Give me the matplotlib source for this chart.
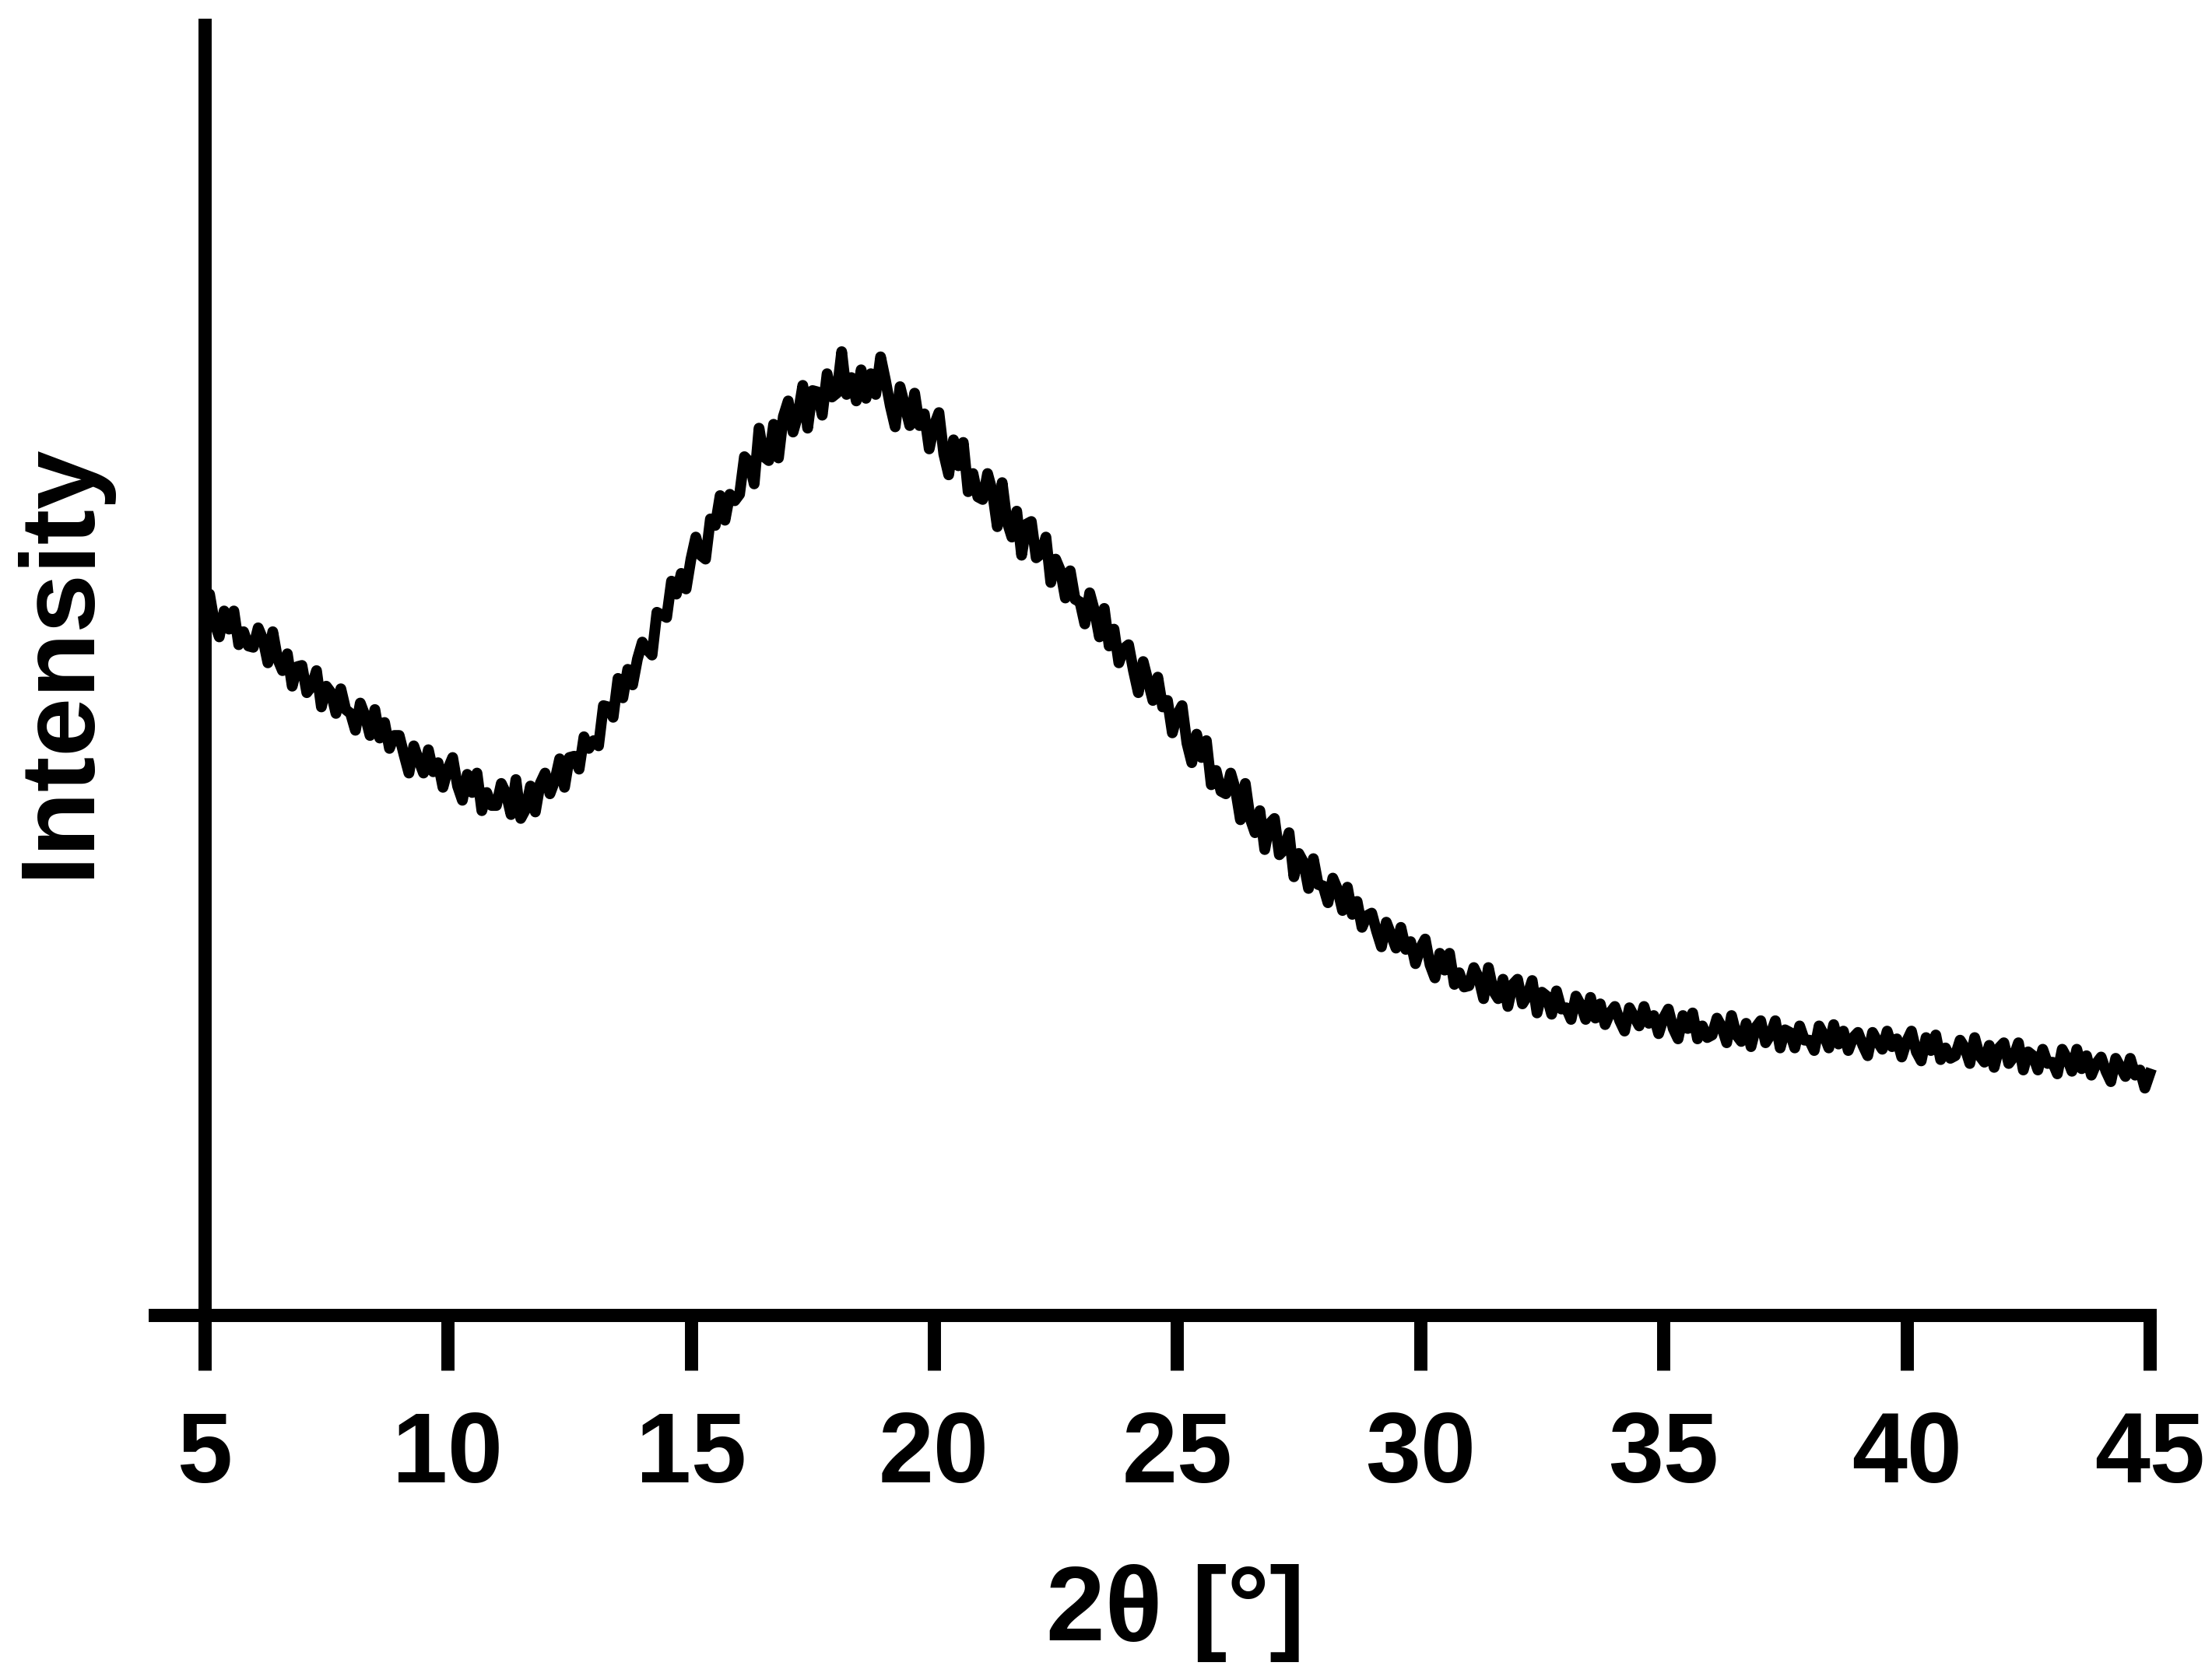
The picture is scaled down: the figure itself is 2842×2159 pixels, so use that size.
import numpy as np
import matplotlib

matplotlib.use("Agg")
import matplotlib.pyplot as plt

plt.rcParams["font.family"] = ["Liberation Sans", "DejaVu Sans"]
plt.rcParams["font.weight"] = "bold"

# XRD scan, arbitrary intensity units (0.1 deg steps, 5.0 .. 45.0)
intensity = [
    53.2, 55.6, 53.4, 52.3, 54.3, 52.9, 54.3, 51.7, 52.7, 51.6,   # 5
    51.5, 53.0, 52.1, 50.3, 52.7, 50.6, 49.7, 51.0, 48.5, 50.0,   # 6
    50.1, 48.0, 48.5, 49.7, 46.9, 48.5, 48.0, 46.4, 48.3, 46.7,   # 7
    46.4, 45.1, 47.2, 46.2, 44.7, 46.7, 44.5, 45.7, 43.7, 44.7,   # 8
    44.7, 43.2, 41.8, 43.9, 42.8, 41.8, 43.6, 41.9, 42.6, 40.7,   # 9
    42.1, 43.0, 40.8, 39.7, 41.7, 40.3, 41.8, 38.9, 40.3, 39.3,   # 10
    39.3, 41.0, 40.2, 38.6, 41.3, 38.3, 39.0, 40.8, 38.8, 41.0,   # 11
    41.8, 40.2, 41.2, 42.9, 40.7, 43.0, 43.1, 42.1, 44.6, 43.7,   # 12
    44.3, 43.9, 47.0, 46.9, 46.1, 49.1, 47.6, 49.8, 48.6, 50.6,   # 13
    51.9, 51.3, 50.9, 54.2, 54.0, 53.8, 56.6, 55.6, 57.2, 56.0,   # 14
    58.3, 60.0, 58.6, 58.3, 61.4, 60.9, 63.2, 61.3, 63.3, 62.8,   # 15
    63.3, 66.2, 65.8, 64.1, 68.4, 66.2, 65.9, 68.7, 66.1, 69.3,   # 16
    70.5, 68.1, 69.4, 71.7, 68.4, 71.3, 71.2, 69.4, 72.6, 70.8,   # 17
    71.1, 74.3, 71.0, 72.3, 70.5, 72.9, 70.7, 72.6, 71.0, 73.9,   # 18
    72.1, 70.1, 68.5, 71.6, 70.1, 68.6, 71.1, 68.6, 69.5, 66.8,   # 19
    68.6, 69.6, 66.4, 64.8, 67.5, 65.5, 67.3, 63.5, 64.9, 63.1,   # 20
    62.9, 64.9, 63.5, 60.8, 64.2, 61.2, 60.0, 62.0, 58.6, 61.0,   # 21
    61.2, 58.4, 58.7, 60.0, 56.5, 58.3, 57.4, 55.3, 57.4, 55.2,   # 22
    55.0, 53.3, 55.7, 54.3, 52.3, 54.5, 51.6, 52.9, 50.3, 51.4,   # 23
    51.7, 49.7, 48.0, 50.4, 48.9, 47.4, 49.2, 46.9, 47.4, 44.9,   # 24
    46.3, 47.0, 44.1, 42.6, 44.8, 43.0, 44.3, 40.9, 42.0, 40.4,   # 25
    40.2, 41.8, 40.5, 38.2, 41.0, 38.3, 37.2, 38.9, 35.9, 37.9,   # 26
    38.3, 35.5, 35.9, 37.2, 33.8, 35.6, 34.9, 32.9, 35.2, 33.2,   # 27
    33.1, 31.8, 33.7, 32.8, 31.2, 33.0, 30.9, 31.9, 29.9, 30.8,   # 28
    31.0, 29.6, 28.4, 30.3, 29.3, 28.3, 29.9, 28.2, 28.8, 27.1,   # 29
    28.3, 29.0, 27.0, 26.0, 27.9, 26.6, 27.9, 25.5, 26.4, 25.3,   # 30
    25.4, 26.8, 26.0, 24.4, 26.8, 25.0, 24.4, 25.9, 23.8, 25.5,   # 31
    25.9, 24.0, 24.6, 25.8, 23.3, 24.9, 24.6, 23.2, 25.0, 23.6,   # 32
    23.7, 22.8, 24.6, 23.9, 22.8, 24.5, 22.9, 24.0, 22.4, 23.3,   # 33
    23.8, 22.7, 21.9, 23.7, 23.0, 22.3, 23.8, 22.5, 23.1, 21.7,   # 34
    22.9, 23.6, 22.1, 21.3, 23.1, 22.1, 23.3, 21.3, 22.3, 21.4,   # 35
    21.6, 22.9, 22.2, 21.0, 23.1, 21.6, 21.1, 22.5, 20.7, 22.2,   # 36
    22.7, 21.0, 21.6, 22.7, 20.6, 22.0, 21.8, 20.6, 22.3, 21.2,   # 37
    21.2, 20.4, 22.3, 21.6, 20.6, 22.4, 20.9, 21.9, 20.4, 21.4,   # 38
    21.8, 20.8, 20.0, 21.8, 21.1, 20.5, 21.9, 20.7, 21.3, 19.9,   # 39
    21.1, 21.9, 20.3, 19.6, 21.4, 20.4, 21.6, 19.7, 20.6, 19.8,   # 40
    20.0, 21.2, 20.6, 19.4, 21.4, 20.0, 19.5, 20.8, 19.1, 20.6,   # 41
    21.0, 19.4, 19.9, 21.0, 18.9, 20.3, 20.0, 18.9, 20.5, 19.4,   # 42
    19.5, 18.6, 20.5, 19.8, 18.8, 20.5, 19.0, 20.0, 18.5, 19.4,   # 43
    19.9, 18.8, 18.0, 19.8, 19.1, 18.4, 19.8, 18.5, 18.9, 17.5,   # 44
    18.6,                                                         # 45
]
two_theta = np.round(np.linspace(5.0, 45.0, len(intensity)), 1)

x_ticks = [5, 10, 15, 20, 25, 30, 35, 40, 45]

W, H = 2842, 2159
fig = plt.figure(figsize=(W / 100, H / 100), dpi=100)
ax = fig.add_axes([199 / W, 1 - 1690 / H, (2762 - 199) / W, (1690 - 32) / H])

ax.plot(two_theta, intensity, color="black", lw=10, solid_joinstyle="round", clip_on=False)

ax.set_xlim(3.976, 45)
ax.set_ylim(0, 99.5)

for s in ("top", "right"):
    ax.spines[s].set_visible(False)
ax.spines["left"].set_position(("data", 5))
for s in ("left", "bottom"):
    ax.spines[s].set_linewidth(12.2)
    ax.spines[s].set_color("black")

ax.set_yticks([])
ax.set_xticks(x_ticks)
ax.set_xticklabels([str(t) for t in x_ticks])
ax.tick_params(axis="x", direction="out", length=51, width=12.2, pad=37,
               labelsize=92, colors="black")
for lbl in ax.get_xticklabels():
    lbl.set_fontweight("bold")

fig.text(1510 / W, 1 - 2108 / H, "2θ [°]", ha="center", va="baseline",
         fontsize=98, fontweight="bold")
fig.text(113 / W, 1 - 848 / H, "Intensity", rotation=90, rotation_mode="anchor",
         ha="center", va="baseline", fontsize=98, fontweight="bold")

fig.savefig("out.png", dpi=100, facecolor="white")
